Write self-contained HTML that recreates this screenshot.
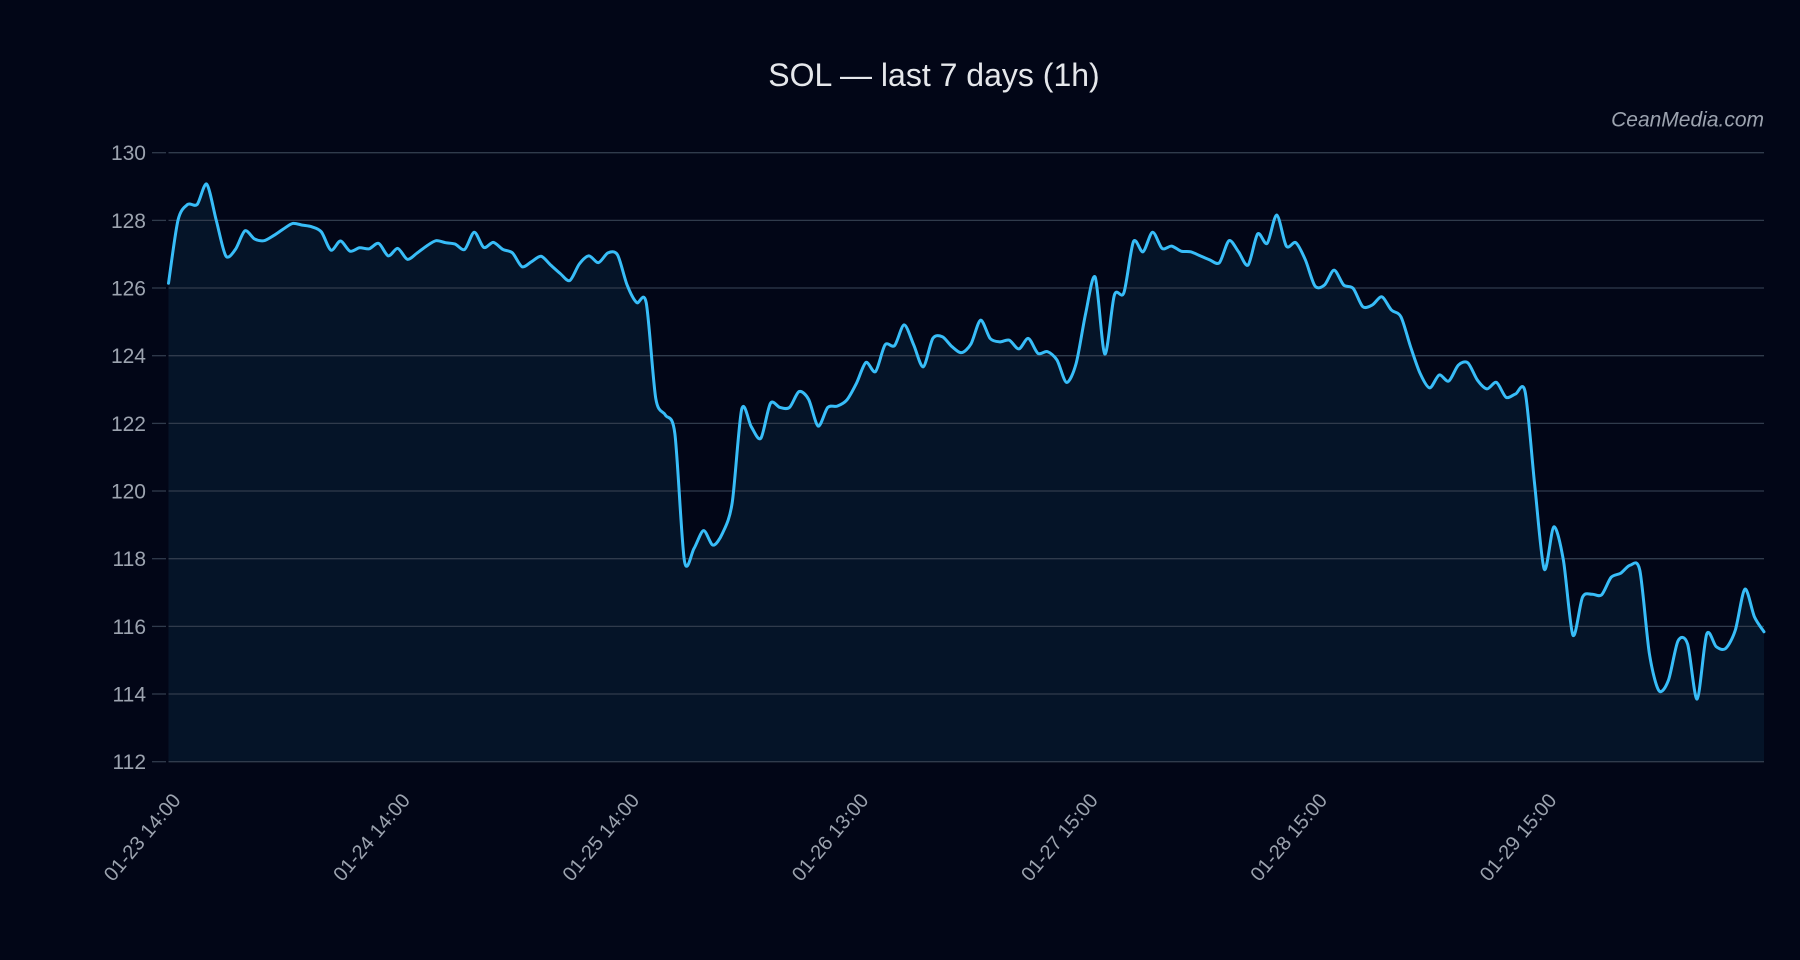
<!DOCTYPE html>
<html>
<head>
<meta charset="utf-8">
<style>
  html,body{margin:0;padding:0;background:#020617;}
  body{width:1800px;height:960px;overflow:hidden;}
  svg{display:block;}
  text{font-family:"Liberation Sans", Arial, sans-serif;}
</style>
</head>
<body>
<svg id="chart" width="1800" height="960" viewBox="0 0 1800 960" xmlns="http://www.w3.org/2000/svg">
  <rect x="0" y="0" width="1800" height="960" fill="#020617"/>

  <!-- fill area -->
  <path id="area" d="" fill="rgba(56,189,248,0.08)" stroke="none"/>

  <!-- gridlines -->
  <g stroke="#303b4c" stroke-width="1.3">
    <line x1="168.5" x2="1764" y1="152.7" y2="152.7"/>
    <line x1="168.5" x2="1764" y1="220.4" y2="220.4"/>
    <line x1="168.5" x2="1764" y1="288.0" y2="288.0"/>
    <line x1="168.5" x2="1764" y1="355.7" y2="355.7"/>
    <line x1="168.5" x2="1764" y1="423.4" y2="423.4"/>
    <line x1="168.5" x2="1764" y1="491.0" y2="491.0"/>
    <line x1="168.5" x2="1764" y1="558.7" y2="558.7"/>
    <line x1="168.5" x2="1764" y1="626.4" y2="626.4"/>
    <line x1="168.5" x2="1764" y1="694.0" y2="694.0"/>
    <line x1="168.5" x2="1764" y1="761.7" y2="761.7"/>
  </g>
  <!-- y tick marks -->
  <g stroke="#303b4c" stroke-width="1.3">
    <line x1="152" x2="166" y1="152.7" y2="152.7"/>
    <line x1="152" x2="166" y1="220.4" y2="220.4"/>
    <line x1="152" x2="166" y1="288.0" y2="288.0"/>
    <line x1="152" x2="166" y1="355.7" y2="355.7"/>
    <line x1="152" x2="166" y1="423.4" y2="423.4"/>
    <line x1="152" x2="166" y1="491.0" y2="491.0"/>
    <line x1="152" x2="166" y1="558.7" y2="558.7"/>
    <line x1="152" x2="166" y1="626.4" y2="626.4"/>
    <line x1="152" x2="166" y1="694.0" y2="694.0"/>
    <line x1="152" x2="166" y1="761.7" y2="761.7"/>
  </g>

  <!-- y labels -->
  <g fill="#9ca3af" font-size="21" text-anchor="end">
    <text x="146" y="160.2">130</text>
    <text x="146" y="227.9">128</text>
    <text x="146" y="295.5">126</text>
    <text x="146" y="363.2">124</text>
    <text x="146" y="430.9">122</text>
    <text x="146" y="498.5">120</text>
    <text x="146" y="566.2">118</text>
    <text x="146" y="633.9">116</text>
    <text x="146" y="701.5">114</text>
    <text x="146" y="769.2">112</text>
  </g>

  <!-- x labels -->
  <g fill="#9ca3af" font-size="20" text-anchor="end">
    <text x="181.7" y="800.7" transform="rotate(-50 181.7 800.7)">01-23 14:00</text>
    <text x="411.0" y="800.7" transform="rotate(-50 411.0 800.7)">01-24 14:00</text>
    <text x="640.3" y="800.7" transform="rotate(-50 640.3 800.7)">01-25 14:00</text>
    <text x="869.6" y="800.7" transform="rotate(-50 869.6 800.7)">01-26 13:00</text>
    <text x="1098.9" y="800.7" transform="rotate(-50 1098.9 800.7)">01-27 15:00</text>
    <text x="1328.2" y="800.7" transform="rotate(-50 1328.2 800.7)">01-28 15:00</text>
    <text x="1557.5" y="800.7" transform="rotate(-50 1557.5 800.7)">01-29 15:00</text>
  </g>

  <!-- line -->
  <path id="line" d="" fill="none" stroke="#38bdf8" stroke-width="3" stroke-linejoin="round" stroke-linecap="round"/>

  <!-- title -->
  <text x="934" y="86" font-size="32" fill="#e5e7eb" text-anchor="middle">SOL — last 7 days (1h)</text>
  <!-- watermark -->
  <text x="1764" y="126.7" font-size="21" font-style="italic" fill="#9ca3af" text-anchor="end">CeanMedia.com</text>
</svg>
<script>
(function(){
  var v=[126.14,128.01,128.47,128.47,129.07,128.0,126.95,127.14,127.69,127.45,
  127.40,127.55,127.74,127.91,127.86,127.81,127.66,127.12,127.39,127.09,
  127.19,127.16,127.32,126.95,127.17,126.85,127.03,127.24,127.40,127.34,
  127.30,127.14,127.65,127.20,127.35,127.14,127.04,126.63,126.78,126.94,
  126.68,126.43,126.22,126.71,126.95,126.75,127.04,126.98,126.09,125.57,
  125.57,122.74,122.25,121.70,117.94,118.30,118.83,118.40,118.76,119.65,
  122.42,121.90,121.56,122.59,122.47,122.47,122.94,122.71,121.92,122.47,
  122.51,122.69,123.18,123.80,123.53,124.32,124.30,124.91,124.32,123.67,
  124.51,124.56,124.27,124.09,124.35,125.05,124.51,124.41,124.46,124.20,
  124.51,124.07,124.12,123.87,123.21,123.77,125.25,126.32,124.05,125.79,
  125.86,127.37,127.07,127.65,127.17,127.24,127.09,127.07,126.95,126.83,
  126.75,127.40,127.07,126.68,127.60,127.32,128.16,127.24,127.34,126.83,
  126.06,126.09,126.53,126.09,125.99,125.45,125.50,125.74,125.35,125.15,
  124.27,123.48,123.05,123.43,123.25,123.72,123.79,123.28,123.02,123.21,
  122.77,122.87,122.93,120.18,117.69,118.94,117.96,115.74,116.86,116.95,
  116.93,117.45,117.57,117.81,117.66,115.20,114.10,114.41,115.57,115.48,
  113.85,115.77,115.40,115.35,115.89,117.10,116.28,115.84];
  var n=v.length;
  var x0=168.5,x1=1764,step=(x1-x0)/(n-1);
  var pts=v.map(function(val,i){return [x0+i*step,152.7+(130-val)*33.833];});
  var t=0.85;
  var d="M"+pts[0][0].toFixed(2)+","+pts[0][1].toFixed(2);
  for(var i=0;i<n-1;i++){
    var p0=pts[i-1]||pts[i],p1=pts[i],p2=pts[i+1],p3=pts[i+2]||pts[i+1];
    var c1x=p1[0]+(p2[0]-p0[0])/6*t,c1y=p1[1]+(p2[1]-p0[1])/6*t;
    var c2x=p2[0]-(p3[0]-p1[0])/6*t,c2y=p2[1]-(p3[1]-p1[1])/6*t;
    d+=" C"+c1x.toFixed(2)+","+c1y.toFixed(2)+" "+c2x.toFixed(2)+","+c2y.toFixed(2)+" "+p2[0].toFixed(2)+","+p2[1].toFixed(2);
  }
  document.getElementById("line").setAttribute("d",d);
  document.getElementById("area").setAttribute("d",d+" L"+x1+",761.7 L"+x0+",761.7 Z");
})();
</script>
</body>
</html>
